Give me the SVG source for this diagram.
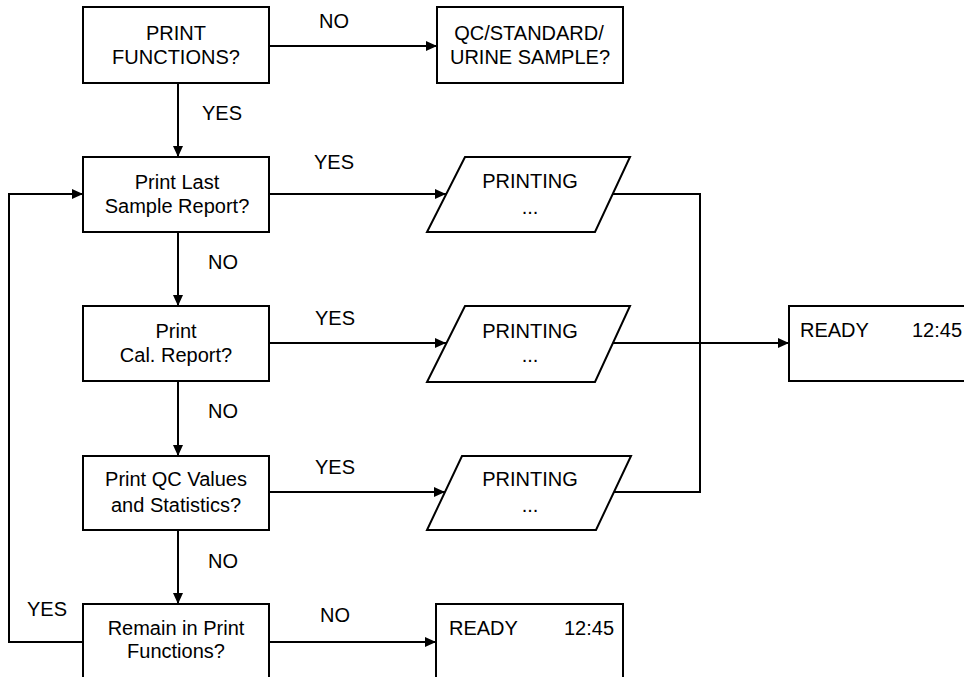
<svg xmlns="http://www.w3.org/2000/svg" width="964" height="677" viewBox="0 0 964 677">
  <style>
    .box { fill: #fff; stroke: #000; stroke-width: 2; }
    .line { fill: none; stroke: #000; stroke-width: 2; }
    text { font-family: "Liberation Sans", Arial, sans-serif; font-size: 20px; fill: #000; }
    .c { text-anchor: middle; }
  </style>
  <defs>
    <marker id="arrow" viewBox="0 0 11 10" refX="11" refY="5" markerWidth="11" markerHeight="10" markerUnits="userSpaceOnUse" orient="auto">
      <path d="M0,0 L11,5 L0,10 Z" fill="#000"/>
    </marker>
  </defs>
  <rect width="964" height="677" fill="#fff"/>

  <g id="connectors">
    <path class="line" d="M269,46 H437" marker-end="url(#arrow)"/>
    <path class="line" d="M178,83 V157" marker-end="url(#arrow)"/>
    <path class="line" d="M269,194 H446" marker-end="url(#arrow)"/>
    <path class="line" d="M178,232 V306" marker-end="url(#arrow)"/>
    <path class="line" d="M269,343 H446" marker-end="url(#arrow)"/>
    <path class="line" d="M178,381 V456" marker-end="url(#arrow)"/>
    <path class="line" d="M269,492 H445" marker-end="url(#arrow)"/>
    <path class="line" d="M178,530 V604" marker-end="url(#arrow)"/>
    <path class="line" d="M269,642 H436" marker-end="url(#arrow)"/>
    <path class="line" d="M83,642 H9 V194 H83" marker-end="url(#arrow)"/>
    <path class="line" d="M613,194 H700 V492 H614"/>
    <path class="line" d="M613,343 H789" marker-end="url(#arrow)"/>
    <text x="334" y="28" class="c">NO</text>
    <text x="222" y="120" class="c">YES</text>
    <text x="334" y="169" class="c">YES</text>
    <text x="223" y="269" class="c">NO</text>
    <text x="335" y="325" class="c">YES</text>
    <text x="223" y="418" class="c">NO</text>
    <text x="335" y="474" class="c">YES</text>
    <text x="223" y="568" class="c">NO</text>
    <text x="47" y="616" class="c">YES</text>
    <text x="335" y="622" class="c">NO</text>
  </g>

  <g id="print-functions">
    <rect class="box" x="83" y="7" width="186" height="76"/>
    <text x="176" y="40" class="c">PRINT</text>
    <text x="176" y="64" class="c">FUNCTIONS?</text>
  </g>

  <g id="sample-type">
    <rect class="box" x="437" y="7" width="186" height="76"/>
    <text x="529" y="40" class="c">QC/STANDARD/</text>
    <text x="530" y="64" class="c">URINE SAMPLE?</text>
  </g>

  <g id="print-last">
    <rect class="box" x="83" y="157" width="186" height="75"/>
    <text x="177" y="189" class="c">Print Last</text>
    <text x="177" y="213" class="c">Sample Report?</text>
  </g>

  <g id="print-cal">
    <rect class="box" x="83" y="306" width="186" height="75"/>
    <text x="176" y="338" class="c">Print</text>
    <text x="176" y="362" class="c">Cal. Report?</text>
  </g>

  <g id="print-qc">
    <rect class="box" x="83" y="456" width="186" height="74"/>
    <text x="176" y="486" class="c">Print QC Values</text>
    <text x="176" y="512" class="c">and Statistics?</text>
  </g>

  <g id="remain">
    <rect class="box" x="83" y="604" width="186" height="80"/>
    <text x="176" y="635" class="c">Remain in Print</text>
    <text x="176" y="658" class="c">Functions?</text>
  </g>

  <g id="printing-1">
    <polygon class="box" points="465,157 630,157 595,232 427,232"/>
    <text x="530" y="188" class="c">PRINTING</text>
    <text x="530" y="214" class="c">...</text>
  </g>

  <g id="printing-2">
    <polygon class="box" points="465,306 630,306 595,382 427,382"/>
    <text x="530" y="338" class="c">PRINTING</text>
    <text x="530" y="362" class="c">...</text>
  </g>

  <g id="printing-3">
    <polygon class="box" points="462,456 631,456 596,530 427,530"/>
    <text x="530" y="486" class="c">PRINTING</text>
    <text x="530" y="512" class="c">...</text>
  </g>

  <g id="ready-right">
    <rect class="box" x="789" y="306" width="200" height="75"/>
    <text x="800" y="337">READY</text>
    <text x="912" y="337">12:45</text>
  </g>

  <g id="ready-bottom">
    <rect class="box" x="436" y="604" width="187" height="80"/>
    <text x="449" y="635">READY</text>
    <text x="564" y="635">12:45</text>
  </g>
</svg>
